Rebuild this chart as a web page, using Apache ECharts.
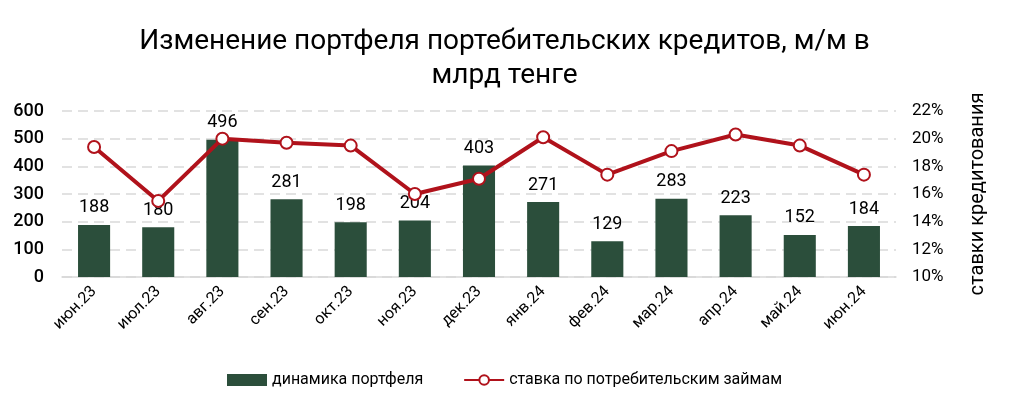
<!DOCTYPE html>
<html>
<head>
<meta charset="utf-8">
<script src="https://cdn.jsdelivr.net/npm/echarts@6/dist/echarts.min.js"></script>
<style>
  html, body { margin: 0; padding: 0; background: #fff; }
</style>
</head>
<body>
<div id="chart" style="width: 1009px; height: 409px"></div>
<script>
// месяцы
var months = ['июн.23', 'июл.23', 'авг.23', 'сен.23', 'окт.23', 'ноя.23', 'дек.23',
    'янв.24', 'фев.24', 'мар.24', 'апр.24', 'май.24', 'июн.24'];
// динамика портфеля, млрд тенге
var portfolio = [188, 180, 496, 281, 198, 204, 403, 271, 129, 283, 223, 152, 184];
// ставка по потребительским займам, %
var rate = [19.4, 15.5, 20.0, 19.7, 19.5, 16.0, 17.1, 20.1, 17.4, 19.1, 20.3, 19.5, 17.4];

var myChart = echarts.init(document.getElementById('chart'));
var font = 'Roboto, "Noto Sans", sans-serif';

var option = {
    animation: false,
    textStyle: { fontFamily: font },
    title: {
        text: 'Изменение портфеля портебительских кредитов, м/м в\nмлрд тенге',
        left: 'center',
        top: 20,
        textStyle: { fontSize: 28, fontWeight: 'normal', color: '#000', lineHeight: 34, fontFamily: font }
    },
    legend: {
        bottom: 16,
        left: 'center',
        itemGap: 40,
        itemWidth: 40,
        itemHeight: 12,
        textStyle: { fontSize: 16, color: '#000', fontFamily: font },
        data: [
            { name: 'динамика портфеля', icon: 'rect' },
            { name: 'ставка по потребительским займам' }
        ]
    },
    grid: { left: 62, right: 113, top: 111, bottom: 132 },
    xAxis: {
        type: 'category',
        data: months,
        axisTick: { show: false },
        axisLine: { lineStyle: { color: '#d9d9d9', width: 1.5 } },
        axisLabel: { rotate: 45, fontSize: 16, color: '#000', margin: 12, fontFamily: font }
    },
    yAxis: [
        {
            type: 'value',
            min: 0, max: 600, interval: 100,
            axisLabel: { fontSize: 18, fontWeight: 500, color: '#000', margin: 18, fontFamily: font },
            splitLine: { lineStyle: { color: '#d9d9d9', type: [10, 6], width: 1.5 } },
            axisLine: { show: false }
        },
        {
            type: 'value',
            min: 10, max: 22, interval: 2,
            name: 'ставки кредитования',
            nameLocation: 'middle',
            nameRotate: 90,
            nameGap: 72,
            nameTextStyle: { fontSize: 20, color: '#000', fontFamily: font },
            axisLabel: { fontSize: 17, color: '#000', margin: 16, formatter: '{value}%', fontFamily: font },
            splitLine: { show: false },
            axisLine: { show: false }
        }
    ],
    series: [
        {
            name: 'динамика портфеля',
            type: 'bar',
            barWidth: '50%',
            itemStyle: { color: '#2b4e3b' },
            label: { show: true, position: 'top', distance: 8, fontSize: 18, color: '#000', fontFamily: font },
            data: portfolio
        },
        {
            name: 'ставка по потребительским займам',
            type: 'line',
            yAxisIndex: 1,
            symbol: 'circle',
            symbolSize: 12,
            lineStyle: { color: '#b0121b', width: 4 },
            itemStyle: { color: '#fff', borderColor: '#b0121b', borderWidth: 2 },
            z: 3,
            data: rate
        }
    ]
};
myChart.setOption(option);
</script>
</body>
</html>
